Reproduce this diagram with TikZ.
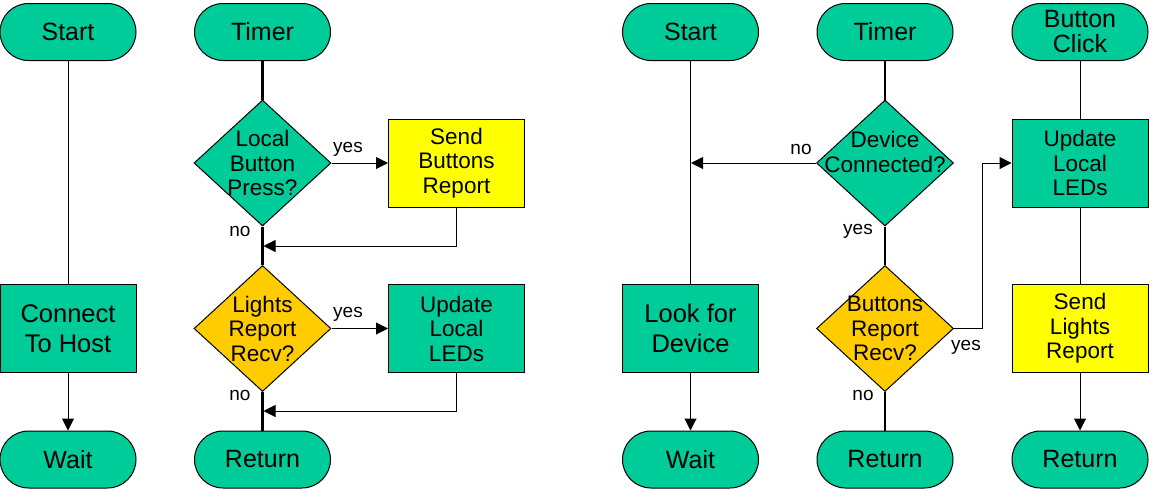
\documentclass[tikz,border=0pt]{standalone}
\usepackage{fontspec}
\setmainfont{Liberation Sans}
\usetikzlibrary{shapes.geometric,arrows.meta}
\definecolor{tgreen}{HTML}{00CC99}
\definecolor{tyellow}{HTML}{FFFF00}
\definecolor{torange}{HTML}{FFCC00}
\tikzset{
  term/.style={draw, line width=1pt, fill=tgreen, rounded corners=28.5pt, minimum width=136pt, minimum height=57pt, inner sep=0pt, align=center, font=\fontsize{25}{25}\selectfont},
  bigbox/.style={draw, line width=1pt, fill=tgreen, rectangle, minimum width=136pt, minimum height=88pt, inner sep=0pt, align=center, font=\fontsize{25.5}{30.5}\selectfont},
  smallbox/.style={draw, line width=1pt, rectangle, minimum width=136pt, minimum height=88pt, inner sep=0pt, align=center, font=\fontsize{22.5}{24.5}\selectfont},
  dia/.style={draw, line width=1pt, diamond, minimum width=137pt, minimum height=126pt, inner sep=0pt},
  diatext/.style={align=center, font=\fontsize{22.5}{24.5}\selectfont, inner sep=0pt},
  lbl/.style={font=\fontsize{19}{19}\selectfont, inner sep=0pt},
  thin/.style={line width=1pt},
  thk/.style={line width=2.2pt},
  arr/.style={line width=1pt, -{Triangle[length=12pt,width=12pt]}}
}
\begin{document}
\begin{tikzpicture}[x=1pt,y=-1pt]
\useasboundingbox (0,0) rectangle (1154,491);
% ---------- left part ----------
\node[term] (s1) at (68,32) {Start};
\node[bigbox] (c1) at (68,328.5) {Connect\\To Host};
\node[term] (w1) at (68,459.5) {Wait};
\node[term] (t1) at (262.5,32) {Timer};
\node[dia, fill=tgreen, label={[diatext]center:Local\\Button\\Press?}] (d1) at (262.5,163) {};
\node[smallbox, fill=tyellow] (b1) at (456.5,163) {Send\\Buttons\\Report};
\node[dia, fill=torange, label={[diatext]center:Lights\\Report\\Recv?}] (d2) at (262.5,328.5) {};
\node[smallbox, fill=tgreen] (b2) at (456.5,328.5) {Update\\Local\\LEDs};
\node[term] (r1) at (262.5,459.5) {Return};
\coordinate (m1) at (263.5,246);
\coordinate (m2) at (263.5,411);
\draw[thin] (s1) -- (c1);
\draw[arr] (c1) -- (w1);
\draw[thk] (t1) -- (d1);
\draw[thk] (d1) -- (d2);
\draw[thk] (d2) -- (r1);
\draw[arr] (d1.east) -- (b1.west);
\draw[arr] (b1.south) |- (m1);
\draw[arr] (d2.east) -- (b2.west);
\draw[arr] (b2.south) |- (m2);
\node[lbl] (y1) at (348,149) {yes};
\node[lbl] (n1) at (240,231) {no};
\node[lbl] (y2) at (348,314) {yes};
\node[lbl] (n2) at (240,395) {no};
% ---------- right part ----------
\node[term] (s2) at (690.5,32) {Start};
\node[bigbox] (c2) at (690.5,328.5) {Look for\\Device};
\node[term] (w2) at (690.5,459.5) {Wait};
\node[term] (t2) at (885,32) {Timer};
\node[dia, fill=tgreen, label={[diatext, yshift=11pt]center:Device\\Connected?}] (d3) at (885,163) {};
\node[dia, fill=torange, label={[diatext]center:Buttons\\Report\\Recv?}] (d4) at (885,328.5) {};
\node[term] (r2) at (885,459.5) {Return};
\node[term] (t3) at (1080,32) {Button\\Click};
\node[smallbox, fill=tgreen] (b3) at (1080,163) {Update\\Local\\LEDs};
\node[smallbox, fill=tyellow] (b4) at (1080,328.5) {Send\\Lights\\Report};
\node[term] (r3) at (1080,459.5) {Return};
\coordinate (m3) at (691,163);
\coordinate (k) at (982,246);
\draw[thin] (s2) -- (c2);
\draw[arr] (c2) -- (w2);
\draw[thk] (t2) -- (d3);
\draw[thk] (d3) -- (d4);
\draw[thk] (d4) -- (r2);
\draw[arr] (d3.west) -- (m3);
\draw[thin] (d4.east) -| (k);
\draw[arr] (k) |- (b3.west);
\draw[thin] (t3) -- (b3);
\draw[thin] (b3) -- (b4);
\draw[arr] (b4) -- (r3);
\node[lbl] (n3) at (801,149) {no};
\node[lbl] (y3) at (858,231) {yes};
\node[lbl] (y4) at (966,347) {yes};
\node[lbl] (n4) at (863,395) {no};
\end{tikzpicture}
\end{document}
